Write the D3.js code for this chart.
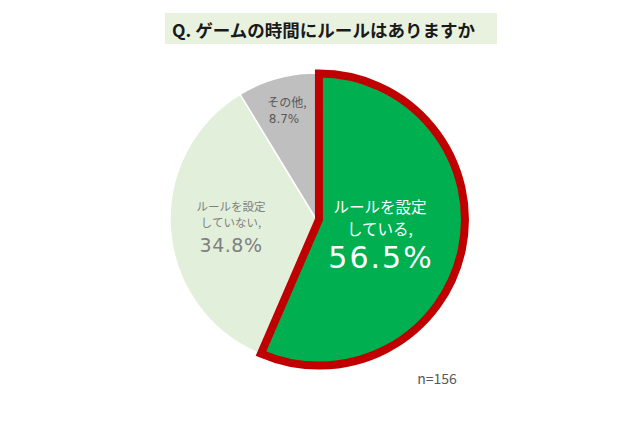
<!DOCTYPE html>
<html>
<head>
<meta charset="utf-8">
<script src="https://cdn.jsdelivr.net/npm/d3@7"></script>
<style>
  body { margin: 0; background: #ffffff; }
  text { font-family: "Noto Sans CJK JP", "Noto Sans", sans-serif; }
  .num { font-family: "DejaVu Sans", sans-serif; }
</style>
</head>
<body>
<div id="main"><svg width="640" height="426"></svg></div>
<script>
var svg = d3.select("#main svg");

// chart data
var titleText = "Q. ゲームの時間にルールはありますか";
var categories = ["ルールを設定している", "ルールを設定していない", "その他"];
var values = [56.5, 34.8, 8.7];
var labelLines = [["ルールを設定", "している,"], ["ルールを設定", "していない,"], ["その他,"]];
var sampleNote = "n=156";

var colors = ["#00b050", "#e2efda", "#bfbfbf"];
var labelColors = ["#ffffff", "#7f7f7f", "#595959"];

var cx = 316, cy = 219, radius = 146;

// title box
svg.append("rect")
    .attr("x", 165)
    .attr("y", 13)
    .attr("width", 332)
    .attr("height", 31)
    .attr("fill", "#e9f2df");

svg.append("text")
    .attr("x", 172)
    .attr("y", 37)
    .attr("font-size", 17.5)
    .attr("font-weight", "bold")
    .attr("fill", "#1a1a1a")
    .attr("textLength", 303)
    .attr("lengthAdjust", "spacing")
    .text(titleText);

var pie = d3.pie().sort(null).value(function(d) { return d; });
var arcs = pie(values);

var arc = d3.arc().innerRadius(0).outerRadius(radius);

var pieCell = svg.append("g")
    .attr("transform", "translate(" + [cx, cy] + ")");

// draw the other slices first, highlighted slice on top
var order = [1, 2, 0];
order.forEach(function(i) {
  var a = arcs[i];
  var g = pieCell.append("g");
  if (i === 0) {
    var mid = (a.startAngle + a.endAngle) / 2;
    var off = 3;
    g.attr("transform", "translate(" + [Math.sin(mid) * off, -Math.cos(mid) * off] + ")");
  }
  g.append("path")
    .attr("d", arc(a))
    .attr("fill", colors[i])
    .attr("stroke", i === 0 ? "#c00000" : "#ffffff")
    .attr("stroke-width", i === 0 ? 8 : 1.5)
    .attr("stroke-linejoin", "miter");
});

// labels
var labelPos = [[64, -6], [-85, -8], [-29, -112]];

// highlighted slice
var l0 = pieCell.append("g").attr("transform", "translate(" + labelPos[0] + ")")
    .attr("fill", labelColors[0]).attr("text-anchor", "middle");
l0.append("text").attr("y", 0).attr("font-size", 15.5).text(labelLines[0][0]);
l0.append("text").attr("y", 22).attr("font-size", 15.5).text(labelLines[0][1]);
l0.append("text").attr("class", "num").attr("x", 1).attr("y", 55)
    .attr("font-size", 30).attr("letter-spacing", 2)
    .text(values[0].toFixed(1) + "%");

var l1 = pieCell.append("g").attr("transform", "translate(" + labelPos[1] + ")")
    .attr("fill", labelColors[1]).attr("text-anchor", "middle");
l1.append("text").attr("y", 0).attr("font-size", 11.5).text(labelLines[1][0]);
l1.append("text").attr("y", 16).attr("font-size", 11.5).text(labelLines[1][1]);
l1.append("text").attr("class", "num").attr("y", 41)
    .attr("font-size", 19).attr("letter-spacing", 0.5)
    .text(values[1].toFixed(1) + "%");

var l2 = pieCell.append("g").attr("transform", "translate(" + labelPos[2] + ")")
    .attr("fill", labelColors[2]).attr("text-anchor", "middle");
l2.append("text").attr("y", 0).attr("font-size", 12).text(labelLines[2][0]);
l2.append("text").attr("class", "num").attr("x", -3).attr("y", 16)
    .attr("font-size", 12).text(values[2].toFixed(1) + "%");

svg.append("text")
    .attr("x", 437)
    .attr("y", 384)
    .attr("text-anchor", "middle")
    .attr("font-size", 14)
    .attr("fill", "#595959")
    .text(sampleNote);
</script>
</body>
</html>
